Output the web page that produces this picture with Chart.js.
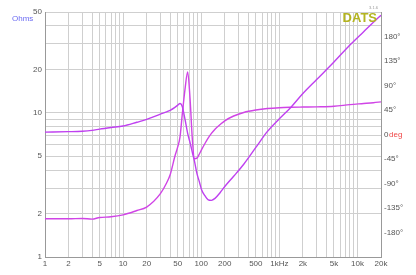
<!DOCTYPE html>
<html><head><meta charset="utf-8">
<script src="https://cdn.jsdelivr.net/npm/chart.js@4/dist/chart.umd.min.js"></script>
<style>html,body{margin:0;padding:0;background:#fff;overflow:hidden}</style>
</head><body>
<canvas id="c" width="416" height="275" style="width:416px;height:275px;display:block"></canvas>
<script>
const freqs  = [1,2,3,4,5,7,10,15,20,30,36,40,46,50,53.5,57,62,67,72,77,82,88,95,101,112,123,135,150,175,200,260,350,500,700,1000,1400,2000,3000,5000,8000,12000,16000,20000];
const curveA = [7.35,7.4,7.45,7.55,7.7,7.9,8.1,8.6,9.0,9.8,10.15,10.4,10.9,11.3,11.6,11.1,9.0,7.2,6.2,5.3,4.6,3.8,3.3,2.93,2.65,2.49,2.47,2.55,2.8,3.08,3.63,4.4,5.75,7.4,9.1,10.9,13.6,17.0,22.5,29.5,36.5,42.4,47.5];
const curveB = [1.84,1.84,1.85,1.83,1.88,1.9,1.96,2.1,2.22,2.75,3.26,3.72,5.0,5.8,6.8,9.6,14.6,19.2,12.4,6.5,4.8,4.85,5.2,5.55,6.15,6.7,7.2,7.7,8.3,8.8,9.5,10.05,10.45,10.7,10.85,10.92,10.96,11.0,11.1,11.4,11.6,11.75,11.9];
const ohmTicks = [1,2,3,4,5,6,7,8,9,10,20,30,40,50];
const ohmLabels = [1,2,5,10,20,50];
const freqTicks = [1,2,3,4,5,6,7,8,9,10,20,30,40,50,60,70,80,90,100,200,300,400,500,600,700,800,900,1000,2000,3000,4000,5000,6000,7000,8000,9000,10000,20000];
const freqLabels = {1:'1',2:'2',5:'5',10:'10',20:'20',50:'50',100:'100',200:'200',500:'500',1000:'1kHz',2000:'2k',5000:'5k',10000:'10k',20000:'20k'};
const phaseTicks = [-180,-135,-90,-45,0,45,90,135,180];

const ptsA = freqs.map((f,i)=>({x:f,y:curveA[i]}));
const ptsB = freqs.map((f,i)=>({x:f,y:curveB[i]}));
const FONT = 'Liberation Sans, Arial, sans-serif';

const textPlugin = {
  id:'texts',
  afterDraw(chart){
    const ctx = chart.ctx;
    const y2 = chart.scales.y2;
    ctx.save();
    ctx.textBaseline = 'middle';
    ctx.font = '8px ' + FONT;
    ctx.fillStyle = '#6b6bf2';
    ctx.textAlign = 'left';
    ctx.fillText('Ohms', 12, 19);
    ctx.fillStyle = '#f04848';
    ctx.fillText('deg', 389, y2.getPixelForValue(0));
    ctx.font = 'bold 13px ' + FONT;
    ctx.fillStyle = '#b4b420';
    ctx.textAlign = 'right';
    ctx.fillText('DATS', 377, 18);
    ctx.font = '4px ' + FONT;
    ctx.fillStyle = '#999';
    ctx.fillText('3.1.6', 378, 8);
    ctx.restore();
  }
};

new Chart(document.getElementById('c'), {
  type:'line',
  data:{datasets:[
    {data:ptsA, borderColor:'#bf40f0', borderWidth:1.4, pointRadius:0, cubicInterpolationMode:'monotone', yAxisID:'y'},
    {data:ptsB, borderColor:'#d044e6', borderWidth:1.4, pointRadius:0, cubicInterpolationMode:'monotone', yAxisID:'y'}
  ]},
  options:{
    responsive:false, animation:false,
    layout:{padding:{top:12,left:0,right:0,bottom:0}},
    plugins:{legend:{display:false}, tooltip:{enabled:false}},
    scales:{
      x:{type:'logarithmic', position:'bottom', min:1, max:20000,
        afterBuildTicks:s=>{s.ticks = freqTicks.map(v=>({value:v}));},
        afterFit:s=>{s.height = 18;},
        ticks:{autoSkip:false, maxRotation:0, minRotation:0, padding:2, color:'#555', font:{size:8, family:FONT},
          callback:(v)=>freqLabels[v] ?? ''},
        grid:{color:'#cfcfcf', lineWidth:1, drawTicks:false},
        border:{color:'#999'}
      },
      y:{type:'logarithmic', position:'left', min:1, max:50,
        afterBuildTicks:s=>{s.ticks = ohmTicks.map(v=>({value:v}));},
        afterFit:s=>{s.width = 45;},
        ticks:{autoSkip:false, padding:3, color:'#555', font:{size:8, family:FONT},
          callback:(v)=>ohmLabels.includes(v) ? String(v) : ''},
        grid:{color:'#cfcfcf', lineWidth:1, drawTicks:false},
        border:{color:'#999'}
      },
      y2:{type:'linear', position:'right', min:-225, max:225,
        afterBuildTicks:s=>{s.ticks = phaseTicks.map(v=>({value:v}));},
        afterFit:s=>{s.width = 35;},
        ticks:{autoSkip:false, padding:3, color:'#555', font:{size:8, family:FONT},
          callback:(v)=> v===0 ? '0' : v + '°'},
        grid:{drawOnChartArea:false, drawTicks:false},
        border:{color:'#999'}
      }
    }
  },
  plugins:[textPlugin]
});
</script>
</body></html>
